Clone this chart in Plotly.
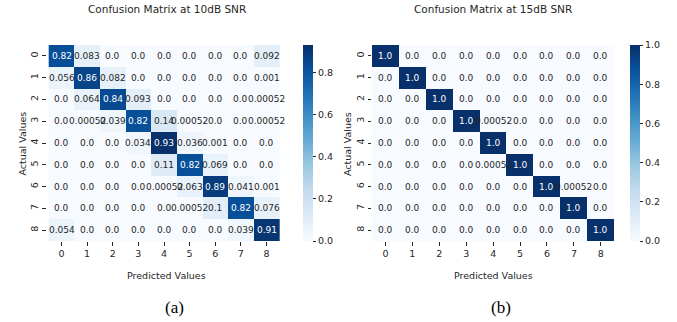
import plotly.graph_objects as go

labels = ["0", "1", "2", "3", "4", "5", "6", "7", "8"]

cm_10db = [
    [0.82, 0.083, 0.0, 0.0, 0.0, 0.0, 0.0, 0.0, 0.092],
    [0.056, 0.86, 0.082, 0.0, 0.0, 0.0, 0.0, 0.0, 0.001],
    [0.0, 0.064, 0.84, 0.093, 0.0, 0.0, 0.0, 0.0, 0.00052],
    [0.0, 0.00052, 0.039, 0.82, 0.14, 0.00052, 0.0, 0.0, 0.00052],
    [0.0, 0.0, 0.0, 0.034, 0.93, 0.036, 0.001, 0.0, 0.0],
    [0.0, 0.0, 0.0, 0.0, 0.11, 0.82, 0.069, 0.0, 0.0],
    [0.0, 0.0, 0.0, 0.0, 0.00052, 0.063, 0.89, 0.041, 0.001],
    [0.0, 0.0, 0.0, 0.0, 0.0, 0.00052, 0.1, 0.82, 0.076],
    [0.054, 0.0, 0.0, 0.0, 0.0, 0.0, 0.0, 0.039, 0.91],
]

cm_15db = [
    [1.0, 0.0, 0.0, 0.0, 0.0, 0.0, 0.0, 0.0, 0.0],
    [0.0, 1.0, 0.0, 0.0, 0.0, 0.0, 0.0, 0.0, 0.0],
    [0.0, 0.0, 1.0, 0.0, 0.0, 0.0, 0.0, 0.0, 0.0],
    [0.0, 0.0, 0.0, 1.0, 0.00052, 0.0, 0.0, 0.0, 0.0],
    [0.0, 0.0, 0.0, 0.0, 1.0, 0.0, 0.0, 0.0, 0.0],
    [0.0, 0.0, 0.0, 0.0, 0.00052, 1.0, 0.0, 0.0, 0.0],
    [0.0, 0.0, 0.0, 0.0, 0.0, 0.0, 1.0, 0.00052, 0.0],
    [0.0, 0.0, 0.0, 0.0, 0.0, 0.0, 0.0, 1.0, 0.0],
    [0.0, 0.0, 0.0, 0.0, 0.0, 0.0, 0.0, 0.0, 1.0],
]

titles = ["Confusion Matrix at 10dB SNR", "Confusion Matrix at 15dB SNR"]
subcaptions = ["(a)", "(b)"]

blues_hex = ["#f7fbff", "#deebf7", "#c6dbef", "#9ecae1", "#6baed6",
             "#4292c6", "#2171b5", "#08519c", "#08306b"]
colorscale = [[i / 8, c] for i, c in enumerate(blues_hex)]

FONT = "DejaVu Sans"
DARK = "#262626"
W, H = 677, 322


def hex2rgb(h):
    h = h.lstrip("#")
    return [int(h[i:i + 2], 16) / 255 for i in (0, 2, 4)]


def cmap(t):
    t = min(max(t, 0.0), 1.0)
    pos = t * 8
    i = min(int(pos), 7)
    f = pos - i
    a, b = hex2rgb(blues_hex[i]), hex2rgb(blues_hex[i + 1])
    return [a[k] + (b[k] - a[k]) * f for k in range(3)]


def lum(rgb):
    out = []
    for c in rgb:
        out.append(c / 12.92 if c <= 0.03928 else ((c + 0.055) / 1.055) ** 2.4)
    return 0.2126 * out[0] + 0.7152 * out[1] + 0.0722 * out[2]


# layout in pixels (top-left origin)
panels = [
    dict(x0=46.5, x1=287, cbx=302.5, tick_vals=[0, 0.2, 0.4, 0.6, 0.8]),
    dict(x0=372, x1=614.3, cbx=630, tick_vals=[0, 0.2, 0.4, 0.6, 0.8, 1.0]),
]
top_px, bot_px = 45, 241

fig = go.Figure()
annotations = []
ydom = [1 - bot_px / H, 1 - top_px / H]

for k, (cm, panel) in enumerate(zip([cm_10db, cm_15db], panels)):
    xa = "x" if k == 0 else "x2"
    ya = "y" if k == 0 else "y2"
    zmax = max(max(r) for r in cm)
    fig.add_trace(go.Heatmap(
        z=cm, x=labels, y=labels, xaxis=xa, yaxis=ya,
        colorscale=colorscale, zmin=0, zmax=zmax, xgap=0, ygap=0,
        hoverinfo="skip",
        colorbar=dict(
            x=panel["cbx"] / W, xanchor="left", xpad=0, ypad=0,
            y=(ydom[0] + ydom[1]) / 2, yanchor="middle",
            len=(bot_px - top_px) / H, lenmode="fraction",
            thickness=10, thicknessmode="pixels", outlinewidth=0,
            ticks="outside", ticklen=3.5, tickwidth=0.8, tickcolor=DARK,
            tickvals=panel["tick_vals"], tickformat=".1f",
            tickfont=dict(family=FONT, size=9.5, color=DARK),
        ),
    ))
    for i, row in enumerate(cm):
        for j, v in enumerate(row):
            col = "#ffffff" if lum(cmap(v / zmax)) <= 0.408 else DARK
            annotations.append(dict(
                x=labels[j], y=labels[i], xref=xa, yref=ya, text=str(v),
                showarrow=False, font=dict(family=FONT, size=9, color=col),
            ))
    axis_common = dict(
        ticks="outside", ticklen=3.5, tickwidth=0.8, tickcolor=DARK,
        showgrid=False, zeroline=False, showline=False,
        tickfont=dict(family=FONT, size=9.5, color=DARK),
    )
    fig.update_layout(**{
        ("xaxis" if k == 0 else "xaxis2"): dict(
            domain=[panel["x0"] / W, panel["x1"] / W], anchor=ya,
            **axis_common),
        ("yaxis" if k == 0 else "yaxis2"): dict(
            domain=ydom, anchor=xa, autorange="reversed", tickangle=-90,
            **axis_common),
    })
    cx = (panel["x0"] + panel["x1"]) / 2
    annotations.append(dict(
        x=cx / W, y=1 - 8.5 / H, xref="paper", yref="paper",
        text=titles[k], showarrow=False, xanchor="center", yanchor="middle",
        font=dict(family=FONT, size=10.5, color=DARK)))
    annotations.append(dict(
        x=cx / W, y=1 - 275 / H, xref="paper", yref="paper",
        text="Predicted Values", showarrow=False, xanchor="center",
        yanchor="middle", font=dict(family=FONT, size=9.5, color=DARK)))
    annotations.append(dict(
        x=(panel["x0"] - 25) / W, y=1 - 144 / H, xref="paper", yref="paper",
        text="Actual Values", showarrow=False, textangle=-90,
        xanchor="center", yanchor="middle",
        font=dict(family=FONT, size=9.5, color=DARK)))
    annotations.append(dict(
        x=(cx + 8) / W, y=1 - 307 / H, xref="paper", yref="paper",
        text=subcaptions[k], showarrow=False, xanchor="center",
        yanchor="middle",
        font=dict(family="Liberation Serif", size=17, color="#000000")))

fig.update_layout(
    width=W, height=H, margin=dict(l=0, r=0, t=0, b=0),
    paper_bgcolor="white", plot_bgcolor="white",
    annotations=annotations, showlegend=False,
)

fig.write_html("out.html")
